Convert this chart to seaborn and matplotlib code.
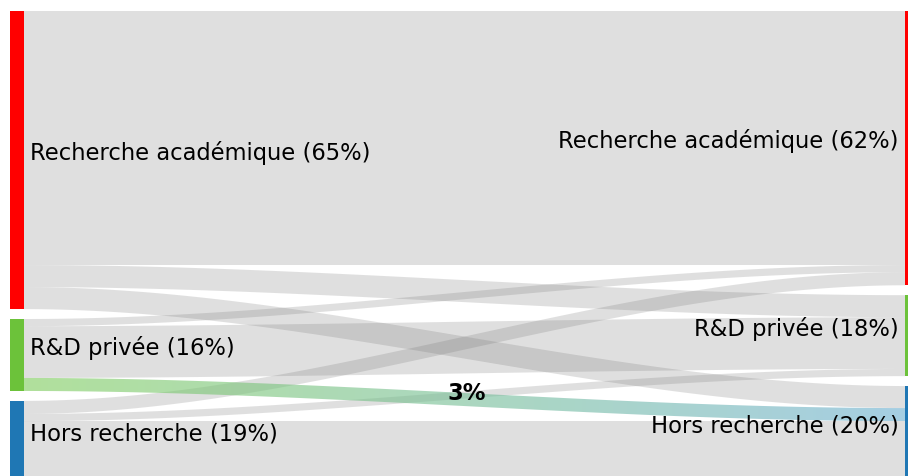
import numpy as np
import matplotlib.pyplot as plt
import seaborn as sns
from matplotlib.patches import Polygon, Rectangle

# career paths: where PhDs were vs where they are now
nodes = ["Recherche académique", "R&D privée", "Hors recherche"]
left_share = [65, 16, 19]
right_share = [62, 18, 20]
node_colors = ["#ff0000", "#6cc23a", "#1f77b4"]

# rows = origin, columns = destination (same order as nodes)
flows = [
    [56.5, 4.9, 4.9],
    [1.6, 11.5, 2.9],
    [2.9, 1.6, 13.3],
]
highlight = (1, 2)
highlight_label = "3%"
highlight_colors = ["#7dcc5a", "#6aaed0"]

sns.set_theme(style="white")
plt.rcParams["font.family"] = ["DejaVu Sans", "Liberation Sans"]

flows = np.array(flows)
gap = 2.2
bar_w = 0.0159

fig = plt.figure(figsize=(9.08, 4.77), dpi=100)
ax = fig.add_axes([0, 0, 1, 1])
ax.set_xlim(-0.0272, 1.0034)
ax.set_ylim(103.4, -2.64)
ax.axis("off")

left_tot = flows.sum(axis=1)
right_tot = flows.sum(axis=0)
left_y0 = np.concatenate([[0], np.cumsum(left_tot + gap)[:-1]])
right_y0 = np.concatenate([[0], np.cumsum(right_tot + gap)[:-1]])

t = np.linspace(0, 1, 200)
s = 3 * t**2 - 2 * t**3

hl_poly = None
hl_mid = None
for i in range(len(nodes)):
    for j in range(len(nodes)):
        v = flows[i, j]
        yl = left_y0[i] + flows[i, :j].sum()
        yr = right_y0[j] + flows[:i, j].sum()
        ytop = yl + (yr - yl) * s
        xs = np.concatenate([t, t[::-1]])
        ys = np.concatenate([ytop, (ytop + v)[::-1]])
        if (i, j) == highlight:
            hl_poly = np.column_stack([xs, ys])
            hl_mid = ytop[100] + v / 2
            continue
        ax.add_patch(Polygon(np.column_stack([xs, ys]), closed=True,
                             facecolor="#767676", alpha=0.226, edgecolor="none"))

# highlighted flow with a colour gradient
cmap = sns.blend_palette(highlight_colors, n_colors=256, as_cmap=True)
patch = Polygon(hl_poly, closed=True, facecolor="none", edgecolor="none")
ax.add_patch(patch)
grad = np.linspace(0, 1, 256).reshape(1, -1)
img = ax.imshow(grad, cmap=cmap, aspect="auto", alpha=0.6,
                extent=[0, 1, hl_poly[:, 1].max(), hl_poly[:, 1].min()],
                zorder=3)
img.set_clip_path(patch)
ax.text(0.502, hl_mid - 1.6, highlight_label, ha="center", va="center",
        fontsize=16.3, fontweight="bold", color="black", zorder=5)

# node bars and labels
for k, name in enumerate(nodes):
    ax.add_patch(Rectangle((-bar_w, left_y0[k]), bar_w, left_tot[k],
                           facecolor=node_colors[k], edgecolor="none", zorder=4))
    ax.add_patch(Rectangle((1, right_y0[k]), bar_w, right_tot[k],
                           facecolor=node_colors[k], edgecolor="none", zorder=4))
    ax.text(0.0068, left_y0[k] + left_tot[k] / 2 - 1.8,
            f"{name} ({left_share[k]}%)", ha="left", va="center",
            fontsize=16.3, color="black", zorder=5)
    ax.text(0.993, right_y0[k] + right_tot[k] / 2 - 1.8,
            f"{name} ({right_share[k]}%)", ha="right", va="center",
            fontsize=16.3, color="black", zorder=5)

fig.savefig("out.png", dpi=100)
